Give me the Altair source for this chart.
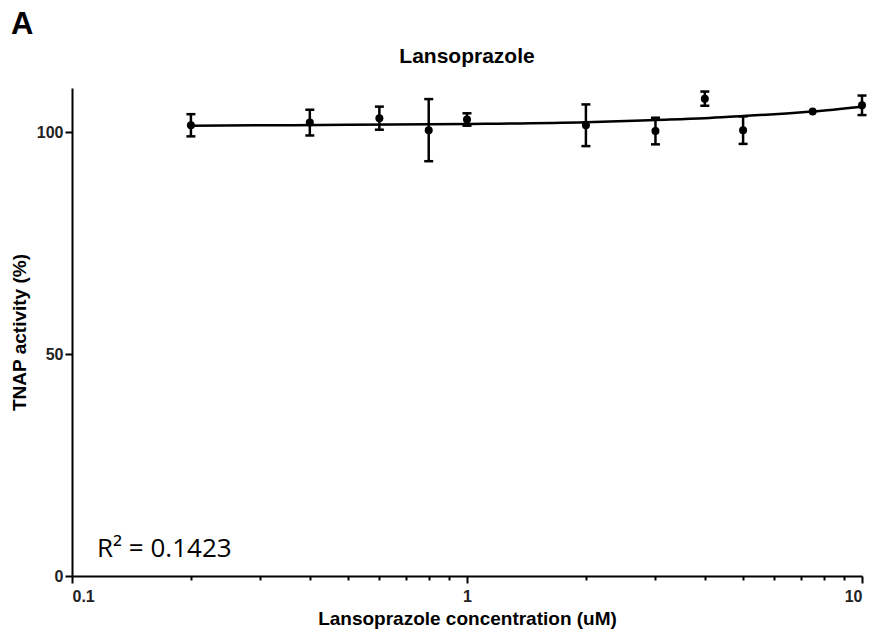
import altair as alt
import pandas as pd

conc = [0.2, 0.4, 0.6, 0.8, 1, 2, 3, 4, 5, 7.5, 10]
activity = [101.6, 102.2, 103.2, 100.5, 102.9, 101.6, 100.3, 107.6, 100.5, 104.7, 106.1]
sem = [2.5, 2.9, 2.6, 7.0, 1.4, 4.7, 3.0, 1.6, 3.1, 0.0, 2.2]

fit_x = [0.2, 0.5, 1, 2, 3, 4, 5, 6, 7.5, 10]
fit_y = [101.5, 101.7, 101.9, 102.3, 102.8, 103.2, 103.7, 104.1, 104.7, 105.8]

x_ticks = [0.1, 0.2, 0.3, 0.4, 0.5, 0.6, 0.7, 0.8, 0.9, 1,
           2, 3, 4, 5, 6, 7, 8, 9, 10]
y_ticks = [0, 50, 100]

pts = pd.DataFrame({"conc": conc, "act": activity, "sem": sem})
pts["lo"] = pts["act"] - pts["sem"]
pts["hi"] = pts["act"] + pts["sem"]
err = pts[pts["sem"] > 0]
fit = pd.DataFrame({"conc": fit_x, "act": fit_y})

FONT = "Liberation Sans"
major_test = "abs(log(datum.value)/LN10 - round(log(datum.value)/LN10)) < 0.001"

xscale = alt.Scale(type="log", domain=[0.1, 10], nice=False)
yscale = alt.Scale(domain=[0, 110], nice=False, zero=True)

xaxis = alt.Axis(
    title="Lansoprazole concentration (uM)",
    values=x_ticks,
    labelExpr="(" + major_test + ") ? datum.label : ''",
    tickSize={"condition": {"test": major_test, "value": 7}, "value": 4},
    grid=False, domainColor="black", domainWidth=2, tickColor="black", tickWidth=2,
    labelFont=FONT, labelFontSize=16, labelFontWeight="bold", labelColor="#222222",
    labelPadding=5,
    titleFont=FONT, titleFontSize=19, titleFontWeight="bold", titleColor="black",
    titlePadding=5,
)
yaxis = alt.Axis(
    title="TNAP activity (%)",
    values=y_ticks, format="d",
    grid=False, domainColor="black", domainWidth=2, tickColor="black", tickWidth=2,
    tickSize=7,
    labelFont=FONT, labelFontSize=16, labelFontWeight="bold", labelColor="#222222",
    labelPadding=2,
    titleFont=FONT, titleFontSize=19, titleFontWeight="bold", titleColor="black",
    titlePadding=7,
)

base_x = alt.X("conc:Q", scale=xscale, axis=xaxis)
base_y = alt.Y("act:Q", scale=yscale, axis=yaxis)

line = alt.Chart(fit).mark_line(color="black", strokeWidth=2.5, interpolate="monotone").encode(
    x=base_x, y=base_y
)
bars = alt.Chart(err).mark_rule(color="black", strokeWidth=2.5).encode(
    x=alt.X("conc:Q", scale=xscale),
    y=alt.Y("lo:Q", scale=yscale),
    y2="hi:Q",
)
cap_lo = alt.Chart(err).mark_tick(color="black", opacity=1, orient="horizontal", size=9, thickness=2.5).encode(
    x=alt.X("conc:Q", scale=xscale),
    y=alt.Y("lo:Q", scale=yscale),
)
cap_hi = alt.Chart(err).mark_tick(color="black", opacity=1, orient="horizontal", size=9, thickness=2.5).encode(
    x=alt.X("conc:Q", scale=xscale),
    y=alt.Y("hi:Q", scale=yscale),
)
points = alt.Chart(pts).mark_circle(color="black", opacity=1, size=64).encode(
    x=alt.X("conc:Q", scale=xscale),
    y=alt.Y("act:Q", scale=yscale),
)

r2 = alt.Chart(pd.DataFrame({"t": ["R\u00b2 = 0.1423"]})).mark_text(
    font="Open Sans", fontSize=26, align="left", baseline="alphabetic", color="black"
).encode(text="t:N", x=alt.value(25), y=alt.value(469))

title = alt.Chart(pd.DataFrame({"t": ["Lansoprazole"]})).mark_text(
    font=FONT, fontSize=21, fontWeight="bold", align="center", baseline="alphabetic", color="black"
).encode(text="t:N", x=alt.value(395), y=alt.value(-25))

panel = alt.Chart(pd.DataFrame({"t": ["A"]})).mark_text(
    font=FONT, fontSize=31, fontWeight="bold", align="left", baseline="alphabetic", color="black"
).encode(text="t:N", x=alt.value(-61), y=alt.value(-54))

chart = alt.layer(line, bars, cap_lo, cap_hi, points, r2, title, panel).properties(
    width=790, height=488,
    autosize=alt.AutoSizeParams(type="none"),
    padding={"left": 72, "top": 88, "right": 12, "bottom": 58},
).configure(background="white").configure_view(stroke=None)

chart.save("out.html", embed_options={"renderer": "svg", "actions": False})
